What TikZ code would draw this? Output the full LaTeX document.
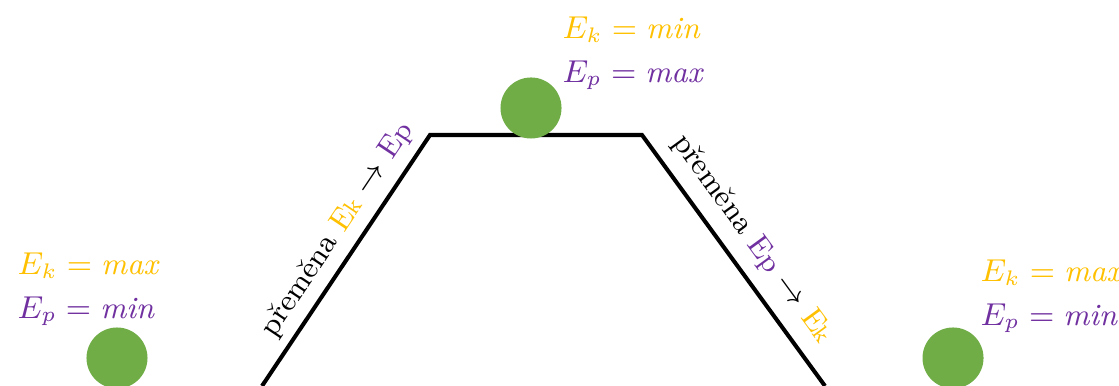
\documentclass[tikz,border=0pt]{standalone}
\usepackage{fontspec}
\usepackage{tikz}
\usetikzlibrary{positioning}
\usepackage{xcolor}
\definecolor{kinetgold}{HTML}{FFC000}
\definecolor{potpurple}{HTML}{7030A0}
\definecolor{ballgreen}{HTML}{70AD47}
\newcommand{\ekin}{\textcolor{kinetgold}{E\kern-0.3pt{\fontsize{6.6}{8}\selectfont k}}}
\newcommand{\epot}{\textcolor{potpurple}{E{\fontsize{8}{9}\selectfont p}}}
\tikzset{
  ball/.style={circle,fill=ballgreen,minimum size=0.61cm,inner sep=0pt},
  energy/.style={anchor=base west,inner sep=0pt,font=\fontsize{8.8}{11}\selectfont},
  track/.style={line width=1.15pt,line join=miter},
  slopelabel/.style={sloped,above,inner sep=2.5pt,font=\fontsize{8.6}{10}\selectfont}
}
\begin{document}
\begin{tikzpicture}[x=0.01cm,y=-0.01cm]
  \useasboundingbox (0,0) rectangle (1119,386);
  % track
  \coordinate (footL) at (262,386);
  \coordinate (topL) at (430,135);
  \coordinate (topR) at (642,135);
  \coordinate (footR) at (825,386);
  \draw[track] (footL) -- node[slopelabel,pos=0.57] (upLbl) {přeměna \ekin{} $\rightarrow$ \epot}
    (topL) -- (topR) -- node[slopelabel,pos=0.48,inner sep=3.5pt] (downLbl) {přeměna \epot{} $\rightarrow$ \ekin} (footR);
  % balls
  \node[ball] (ballL) at (117,358) {};
  \node[ball] (ballT) at (531,108) {};
  \node[ball] (ballR) at (953,358) {};
  % energies
  \node[energy] (ekL) at (17,275) {\color{kinetgold}$E_k = \mathit{max}$};
  \node[energy,below=0.43cm of ekL.base west,anchor=base west] (epL) {\color{potpurple}$E_p = \mathit{min}$};
  \node[energy] (ekT) at (562,39) {\color{kinetgold}$E_k = \mathit{min}$};
  \node[energy,below=0.43cm of ekT.base west,anchor=base west] (epT) {\color{potpurple}$E_p = \mathit{max}$};
  \node[energy] (ekR) at (980,282) {\color{kinetgold}$E_k = \mathit{max}$};
  \node[energy,below=0.43cm of ekR.base west,anchor=base west] (epR) {\color{potpurple}$E_p = \mathit{min}$};
\end{tikzpicture}
\end{document}
